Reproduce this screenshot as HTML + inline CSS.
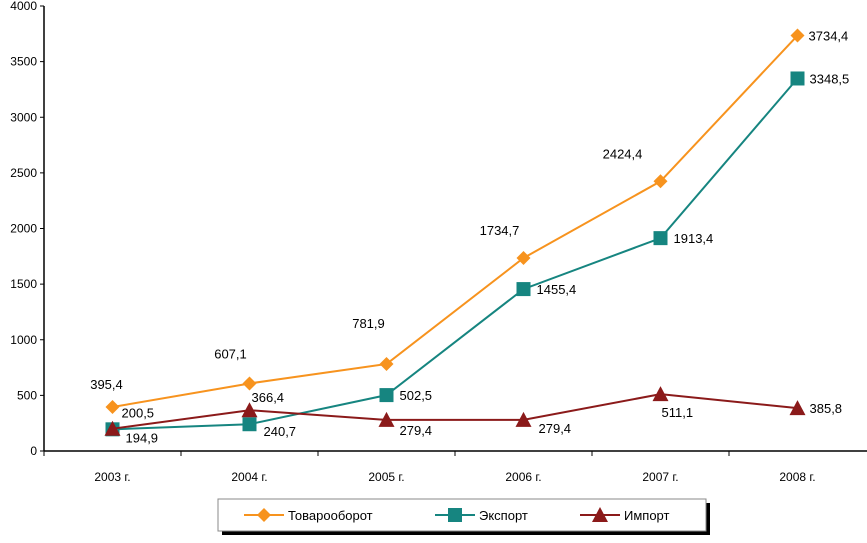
<!DOCTYPE html>
<html><head><meta charset="utf-8"><style>
body{margin:0;background:#fff;}
svg text{font-family:"Liberation Sans",sans-serif;fill:#000;}
</style></head><body>
<svg id="c" width="867" height="538" xmlns="http://www.w3.org/2000/svg"></svg>
<script>
const categories=["2003 г.","2004 г.","2005 г.","2006 г.","2007 г.","2008 г."];
const turnover=[395.4,607.1,781.9,1734.7,2424.4,3734.4];
const exportV=[194.9,240.7,502.5,1455.4,1913.4,3348.5];
const importV=[200.5,366.4,279.4,279.4,511.1,385.8];
const yTicks=[0,500,1000,1500,2000,2500,3000,3500,4000];
const NS="http://www.w3.org/2000/svg";
const svg=document.getElementById('c');
const X0=44,Y0=451,YT=6,STEP=137;
const xs=i=>X0+STEP*(i+0.5);
const ys=v=>Y0-(Y0-YT)*v/4000;
function el(t,a,p){const e=document.createElementNS(NS,t);for(const k in a)e.setAttribute(k,a[k]);(p||svg).appendChild(e);return e;}
const fmt=v=>v.toFixed(1).replace('.',',');
let ax=el('line',{x1:X0,y1:YT,x2:X0,y2:Y0,stroke:'#000','stroke-width':1.5});


let bx=el('line',{x1:X0,y1:Y0,x2:867,y2:Y0,stroke:'#000','stroke-width':1.5});


yTicks.forEach(v=>{
 el('line',{x1:X0-4,y1:ys(v),x2:X0,y2:ys(v),stroke:'#000'});
 const t=el('text',{x:X0-7,y:ys(v)+4,'text-anchor':'end','font-size':12});t.textContent=v;
 
 
});
categories.forEach((c,i)=>{
 el('line',{x1:X0+STEP*i,y1:Y0,x2:X0+STEP*i,y2:Y0+5,stroke:'#000'});
 const t=el('text',{x:xs(i),y:Y0+30,'text-anchor':'middle','font-size':12});t.textContent=c;
 
 
});
function marker(type,x,y,col){
 if(type==='d')return el('polygon',{points:`${x},${y-7} ${x+7},${y} ${x},${y+7} ${x-7},${y}`,fill:col});
 if(type==='s')return el('rect',{x:x-7,y:y-7,width:14,height:14,fill:col});
 return el('polygon',{points:`${x},${y-8} ${x+8},${y+7} ${x-8},${y+7}`,fill:col});
}
const labOff={
 t:[[-6,-18,'middle'],[-19,-25,'middle'],[-18,-36,'middle'],[-24,-23,'middle'],[-38,-23,'middle'],[11,5,'start']],
 e:[[13,13,'start'],[14,12,'start'],[13,5,'start'],[13,5,'start'],[13,5,'start'],[12,5,'start']],
 i:[[9,-11,'start'],[2,-8,'start'],[13,15,'start'],[15,13,'start'],[1,23,'start'],[12,5,'start']]
};
function series(vals,col,type,key,name){
 const g=el('g',{});
 
 
 el('polyline',{points:vals.map((v,i)=>xs(i)+','+ys(v)).join(' '),fill:'none',stroke:col,'stroke-width':2},g);
 vals.forEach((v,i)=>{
  const m=marker(type,xs(i),ys(v),col);g.appendChild(m);
  
  
 });
 vals.forEach((v,i)=>{
  const o=labOff[key][i];
  const t=el('text',{x:xs(i)+o[0],y:ys(v)+o[1],'text-anchor':o[2],'font-size':13},g);t.textContent=fmt(v);
  
  
 });
}
series(turnover,'#f7931e','d','t','turnover-series');
series(exportV,'#168580','s','e','export-series');
series(importV,'#8b1a1a','t','i','import-series');
const lg=el('g',{});


el('rect',{x:222,y:503,width:488,height:32,fill:'#000'},lg);
el('rect',{x:218,y:499,width:488,height:32,fill:'#fff',stroke:'#888'},lg);
[['Товарооборот','#f7931e','d',244],['Экспорт','#168580','s',435],['Импорт','#8b1a1a','t',580]].forEach(l=>{
 const g=el('g',{},lg);
 
 
 el('line',{x1:l[3],y1:515,x2:l[3]+40,y2:515,stroke:l[1],'stroke-width':2},g);
 g.appendChild(marker(l[2],l[3]+20,515,l[1]));
 const t=el('text',{x:l[3]+44,y:520,'font-size':13},g);t.textContent=l[0];
});
</script>
</body></html>
